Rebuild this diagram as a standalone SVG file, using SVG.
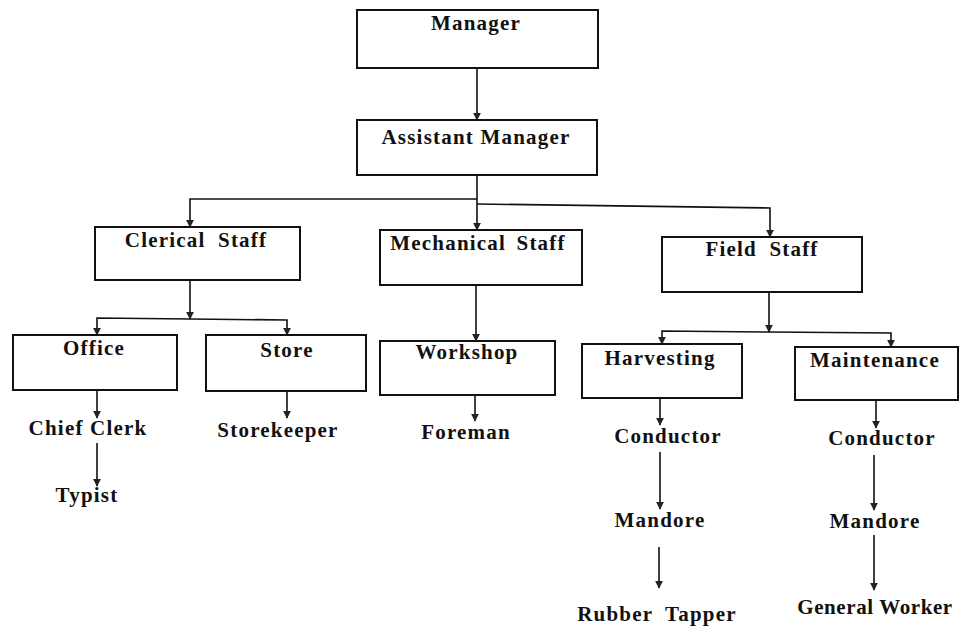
<svg xmlns="http://www.w3.org/2000/svg" width="962" height="627" viewBox="0 0 962 627">
<style>
.box{fill:#fff;stroke:#111;stroke-width:2}
.t{font-family:"Liberation Serif","Times New Roman",serif;font-weight:bold;font-size:21px;letter-spacing:1.2px;text-anchor:middle;fill:#111}
.ln{fill:none;stroke:#111;stroke-width:1.6}
</style>
<defs>
<marker id="ah" viewBox="0 0 10 10" refX="9" refY="5" markerWidth="8" markerHeight="9" orient="auto" markerUnits="userSpaceOnUse">
<path d="M0,0 L10,5 L0,10 Z" fill="#222"/>
</marker>
</defs>
<rect width="962" height="627" fill="#fff"/>
<g id="connectors">
<line class="ln" x1="477" y1="68" x2="477" y2="120" marker-end="url(#ah)"/>
<polyline class="ln" points="477,199 190,199 190,227" marker-end="url(#ah)"/>
<polyline class="ln" points="477,204 770,208 770,237" marker-end="url(#ah)"/>
<line class="ln" x1="477" y1="175" x2="477" y2="230" marker-end="url(#ah)"/>
<line class="ln" x1="190" y1="280" x2="190" y2="319" marker-end="url(#ah)"/>
<polyline class="ln" points="190,319 97,318 97,335" marker-end="url(#ah)"/>
<polyline class="ln" points="190,319 287,320 287,335" marker-end="url(#ah)"/>
<line class="ln" x1="476" y1="285" x2="476" y2="341" marker-end="url(#ah)"/>
<line class="ln" x1="769" y1="292" x2="769" y2="332" marker-end="url(#ah)"/>
<polyline class="ln" points="769,332 662,331 662,344" marker-end="url(#ah)"/>
<polyline class="ln" points="769,332 891,333 891,347" marker-end="url(#ah)"/>
<line class="ln" x1="97" y1="390" x2="97" y2="418" marker-end="url(#ah)"/>
<line class="ln" x1="97" y1="443" x2="97" y2="486" marker-end="url(#ah)"/>
<line class="ln" x1="287" y1="391" x2="287" y2="418" marker-end="url(#ah)"/>
<line class="ln" x1="475" y1="395" x2="475" y2="421" marker-end="url(#ah)"/>
<line class="ln" x1="660" y1="398" x2="660" y2="425" marker-end="url(#ah)"/>
<line class="ln" x1="660" y1="452" x2="660" y2="509" marker-end="url(#ah)"/>
<line class="ln" x1="659" y1="547" x2="659" y2="588" marker-end="url(#ah)"/>
<line class="ln" x1="876" y1="400" x2="876" y2="428" marker-end="url(#ah)"/>
<line class="ln" x1="874" y1="455" x2="874" y2="510" marker-end="url(#ah)"/>
<line class="ln" x1="874" y1="535" x2="874" y2="590" marker-end="url(#ah)"/>
</g>
<g id="manager"><rect class="box" x="357" y="10" width="241" height="58"/><text class="t" x="476" y="30">Manager</text></g>
<g id="assistant-manager"><rect class="box" x="357" y="120" width="240" height="55"/><text class="t" x="476" y="144">Assistant Manager</text></g>
<g id="clerical-staff"><rect class="box" x="95" y="227" width="205" height="53"/><text class="t" x="196" y="247" style="word-spacing:6px">Clerical Staff</text></g>
<g id="mechanical-staff"><rect class="box" x="380" y="230" width="202" height="55"/><text class="t" x="478" y="250" style="word-spacing:4px">Mechanical Staff</text></g>
<g id="field-staff"><rect class="box" x="662" y="237" width="200" height="55"/><text class="t" x="762" y="256" style="word-spacing:6px">Field Staff</text></g>
<g id="office"><rect class="box" x="13" y="335" width="164" height="55"/><text class="t" x="94" y="355">Office</text></g>
<g id="store"><rect class="box" x="206" y="335" width="160" height="56"/><text class="t" x="287" y="357">Store</text></g>
<g id="workshop"><rect class="box" x="380" y="341" width="175" height="54"/><text class="t" x="467" y="359">Workshop</text></g>
<g id="harvesting"><rect class="box" x="582" y="344" width="160" height="54"/><text class="t" x="660" y="365">Harvesting</text></g>
<g id="maintenance"><rect class="box" x="795" y="347" width="163" height="53"/><text class="t" x="875" y="367">Maintenance</text></g>
<g id="chief-clerk"><text class="t" x="88" y="435">Chief Clerk</text></g>
<g id="typist"><text class="t" x="87" y="502">Typist</text></g>
<g id="storekeeper"><text class="t" x="278" y="437">Storekeeper</text></g>
<g id="foreman"><text class="t" x="466" y="439">Foreman</text></g>
<g id="conductor-h"><text class="t" x="668" y="443">Conductor</text></g>
<g id="conductor-m"><text class="t" x="882" y="445">Conductor</text></g>
<g id="mandore-h"><text class="t" x="660" y="527">Mandore</text></g>
<g id="mandore-m"><text class="t" x="875" y="528">Mandore</text></g>
<g id="rubber-tapper"><text class="t" x="657" y="621" style="word-spacing:6px">Rubber Tapper</text></g>
<g id="general-worker"><text class="t" x="875" y="614" style="letter-spacing:0.6px">General Worker</text></g>
</svg>
